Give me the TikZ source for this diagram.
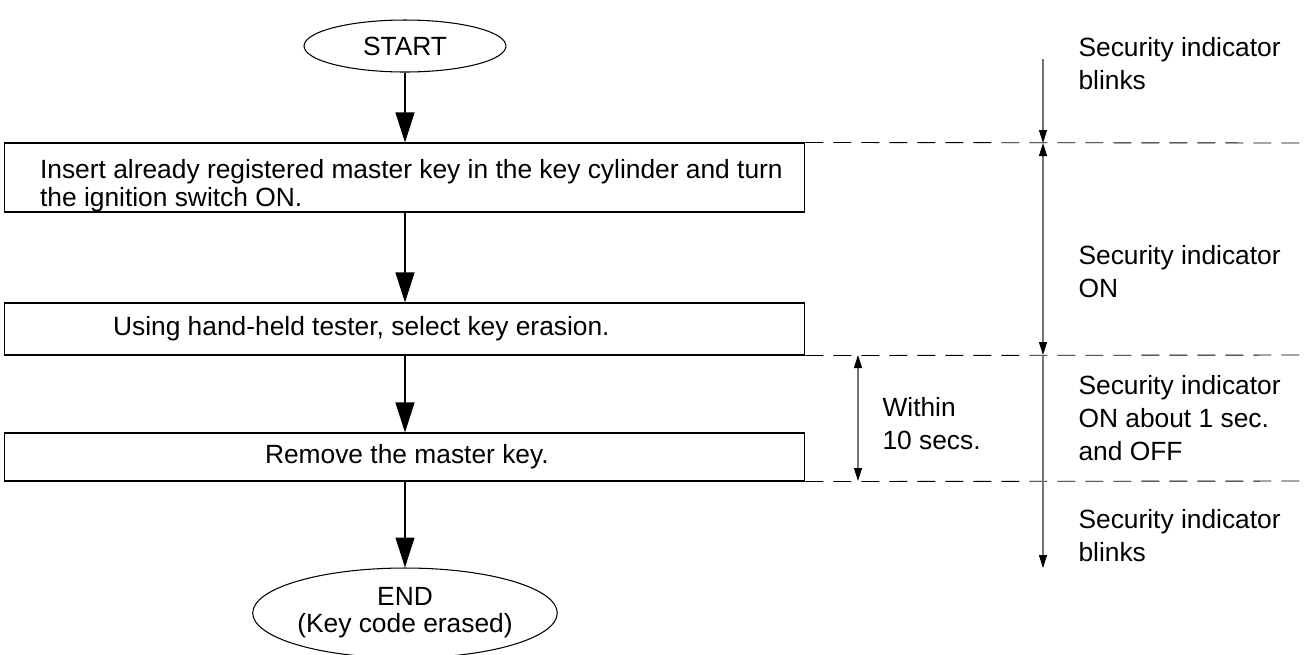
\documentclass[tikz,border=0pt]{standalone}
\usepackage{fontspec}
\setmainfont{Liberation Sans}
\usetikzlibrary{arrows.meta, positioning, shapes.geometric}

\begin{document}
\begin{tikzpicture}[x=0.02cm, y=-0.02cm, line width=0.6pt,
      >={Triangle[length=0.6cm, width=0.38cm]},
      itip/.tip={Triangle[length=0.26cm, width=0.16cm, black]},
      term/.style={ellipse, draw, inner sep=0pt, align=center,
                   font=\fontsize{15}{15.4}\selectfont},
      stepbox/.style={draw, minimum width=16.02cm, text width=16.02cm,
                   inner xsep=0pt, inner ysep=0pt, align=flush left,
                   font=\fontsize{15}{15.9}\selectfont},
      note/.style={anchor=north west, align=left, inner sep=0pt,
                   font=\fontsize{15}{18.8}\selectfont},
      level/.style={dash pattern=on 0.36cm off 0.2cm, line width=0.5pt},
      ind/.style={draw=black!55, line width=0.6pt}]
    \clip (0,0) rectangle (1306,654);
    \node[term, minimum width=4.04cm, minimum height=1.04cm] (start) at (405,46) {START};
    \node[stepbox, minimum height=1.38cm] (ins) at (404.5,177.5)
      {\hspace*{0.72cm}\rule{0pt}{0.7cm}Insert already registered master key in the key cylinder and turn\\
       \hspace*{0.72cm}the ignition switch ON.};
    \node[stepbox, minimum height=1.04cm] (sel) at (404.5,329)
      {\hspace*{2.18cm}Using hand-held tester, select key erasion.};
    \node[stepbox, minimum height=0.96cm] (rem) at (404.5,457)
      {\hspace*{5.22cm}Remove the master key.};
    \node[term, minimum width=5.52cm, minimum height=1.8cm] (fin) at (405,613)
      {END\\(Key code erased)};
    \draw[->] (start)--(start|-ins.north);
    \draw[->] (ins.south-|start)--(start|-sel.north);
    \draw[->] (sel.south-|start)--(start|-rem.north);
    \draw[->] (rem.south-|start)--(fin);

    % level lines
    \coordinate (l1) at (1306,143);
    \coordinate (l2) at (1306,355);
    \coordinate (l3) at (1306,481);
    \draw[level] (ins.north east)--(l1);
    \draw[level] (sel.south east)--(l2);
    \draw[level] (rem.south east)--(l3);

    % indicator
    \coordinate (i0) at (1043,59);
    \coordinate (i1) at (1043,143);
    \coordinate (i2) at (1043,355);
    \coordinate (i3) at (1043,568);
    \draw[ind, -itip] (i0)--(i1);
    \draw[ind, itip-itip] (i1)--(i2);
    \draw[ind, -itip] (i2)--(i3);
    \coordinate (w1) at (858,355);
    \coordinate (w2) at (858,481);
    \draw[ind, itip-itip] (w1)--(w2);

    \node[note] (n1) at (1078,37) {Security indicator\\blinks};
    \node[note] (n2) at (1078,245) {Security indicator\\ON};
    \node[note] (n3) at (1078,375) {Security indicator\\ON about 1 sec.\\and OFF};
    \node[note] (n4) at (1078,509) {Security indicator\\blinks};
    \node[note] (win) at (882,397) {Within\\10 secs.};
  \end{tikzpicture}
\end{document}
